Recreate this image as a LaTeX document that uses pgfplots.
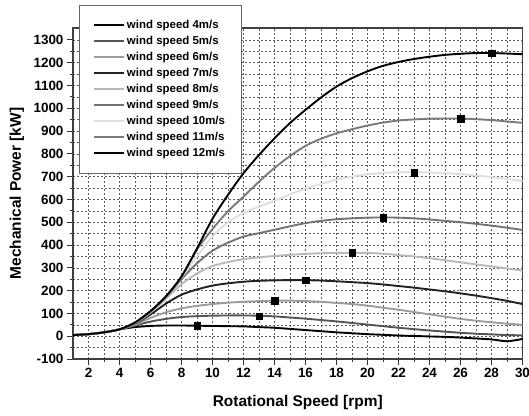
\documentclass[border=0pt]{standalone}
\usepackage{fontspec}
\setmainfont{Liberation Sans}
\usepackage{pgfplots}
\usepackage{pgfplotstable}
\pgfplotsset{compat=1.18}

\definecolor{cfive}{HTML}{555555}
\definecolor{csix}{HTML}{9C9C9C}
\definecolor{cseven}{HTML}{222222}
\definecolor{ceight}{HTML}{B8B8B8}
\definecolor{cnine}{HTML}{737373}
\definecolor{cten}{HTML}{DEDEDE}
\definecolor{celeven}{HTML}{7A7A7A}

% rotational speed [rpm] vs mechanical power [kW], one column per wind speed
\pgfplotstableread{
x  v4   v5   v6   v7   v8   v9   v10  v11  v12
1  5    5    5    5    5    5    5    5    5
2  9    9    9    9    9    9    9    9    9
3  17   17   17   17   17   17   17   17   17
4  30   30   30   30   30   30   30   30   30
5  40   47   50   55   57   58   59   60   60
6  45   64   80   95   103  107  109  110  110
7  47   76   105  143  165  172  174  175  175
8  47   84   122  182  228  250  258  262  262
9  46   88   133  205  275  320  350  380  385
10 45   90   141  222  308  375  438  470  515
11 44   91   147  232  325  410  500  548  620
12 43   91   151  239  338  437  540  612  715
13 40   90   154  243  346  452  568  678  795
14 37   87   156  245  352  467  594  738  868
15 32   82   156  246  357  482  622  790  935
16 27   77   154  246  361  496  648  835  993
17 22   71   151  244  364  506  668  866  1047
18 17   65   146  241  365  513  686  890  1095
19 13   58   141  237  366  517  700  908  1132
20 9    51   134  233  365  520  710  924  1162
21 6    44   125  227  362  521  716  937  1186
22 3    37   116  220  356  520  719  946  1203
23 1    31   106  213  350  517  719  951  1216
24 -1   25   96   205  342  512  718  954  1226
25 -3   20   86   197  333  506  715  955  1234
26 -6   15   76   188  324  500  711  955  1239
27 -10  11   68   178  315  493  705  952  1242
28 -14  8    61   167  306  485  698  948  1242
29 -22  5    55   155  297  476  690  942  1240
30 -12  4    50   141  288  466  680  936  1237
}\curves

% maximum power points
\pgfplotstableread{
x  y
9  45
13 88
14 156
16 246
19 366
21 521
23 718
26 955
28 1242
}\maxpts

\tikzset{pwr/.style={line width=1.9bp, smooth, mark=none}}

\begin{document}
\begin{tikzpicture}
\useasboundingbox (-73bp,-57bp) rectangle (456bp,359bp);
\begin{axis}[
  at={(0,0)}, anchor=south west,
  scale only axis,
  width=449.5bp, height=331bp,
  xmin=1, xmax=30, ymin=-100, ymax=1352,
  xtick={2,4,...,30},
  ytick={-100,0,...,1300},
  minor x tick num=1,
  minor y tick num=1,
  xtick pos=bottom, ytick pos=left,
  tick align=outside,
  major tick length=6bp, minor tick length=3bp,
  tick style={black!80, line width=0.8bp},
  axis line style={black!75, line width=1.2bp},
  grid=both,
  major grid style={black!65, line width=0.45bp, dash pattern=on 2bp off 2bp},
  minor grid style={black!65, line width=0.45bp, dash pattern=on 2bp off 2bp},
  /pgf/number format/assume math mode=true,
  /pgf/number format/set thousands separator={},
  ticklabel style={font=\fontsize{13.5}{15}\selectfont\bfseries},
  xlabel={Rotational Speed [rpm]},
  ylabel={Mechanical Power [kW]},
  every axis x label/.style={at={(rel axis cs:0.5,0)}, yshift=-44bp, anchor=center,
    font=\fontsize{15.5}{18}\selectfont\bfseries},
  every axis y label/.style={at={(rel axis cs:0,0.5)}, xshift=-56bp, rotate=90, anchor=center,
    font=\fontsize{15.5}{18}\selectfont\bfseries},
  legend image code/.code={\draw[#1, line width=1.9bp] (0bp,0bp) -- (30bp,0bp);},
  legend style={at={(rel axis cs:0.0127,1.0695)}, anchor=north west,
    draw=black!60, line width=0.8bp, fill=white,
    inner xsep=14bp, inner ysep=13bp, row sep=2.2bp,
    font=\fontsize{11.5}{13}\selectfont\bfseries,
    cells={anchor=west}},
  legend cell align=left,
]
\addplot[pwr, draw=black]   table[x=x, y=v4]  {\curves};
\addplot[pwr, draw=cfive]   table[x=x, y=v5]  {\curves};
\addplot[pwr, draw=csix]    table[x=x, y=v6]  {\curves};
\addplot[pwr, draw=cseven]  table[x=x, y=v7]  {\curves};
\addplot[pwr, draw=ceight]  table[x=x, y=v8]  {\curves};
\addplot[pwr, draw=cnine]   table[x=x, y=v9]  {\curves};
\addplot[pwr, draw=cten]    table[x=x, y=v10] {\curves};
\addplot[pwr, draw=celeven] table[x=x, y=v11] {\curves};
\addplot[pwr, draw=black]   table[x=x, y=v12] {\curves};
\addplot[forget plot, only marks, mark=square*, mark size=3.3bp,
  mark options={draw=black, fill=black}] table[x=x, y=y] {\maxpts};
\legend{wind speed 4m/s, wind speed 5m/s, wind speed 6m/s, wind speed 7m/s,
  wind speed 8m/s, wind speed 9m/s, wind speed 10m/s, wind speed 11m/s,
  wind speed 12m/s}
\end{axis}
\end{tikzpicture}
\end{document}
